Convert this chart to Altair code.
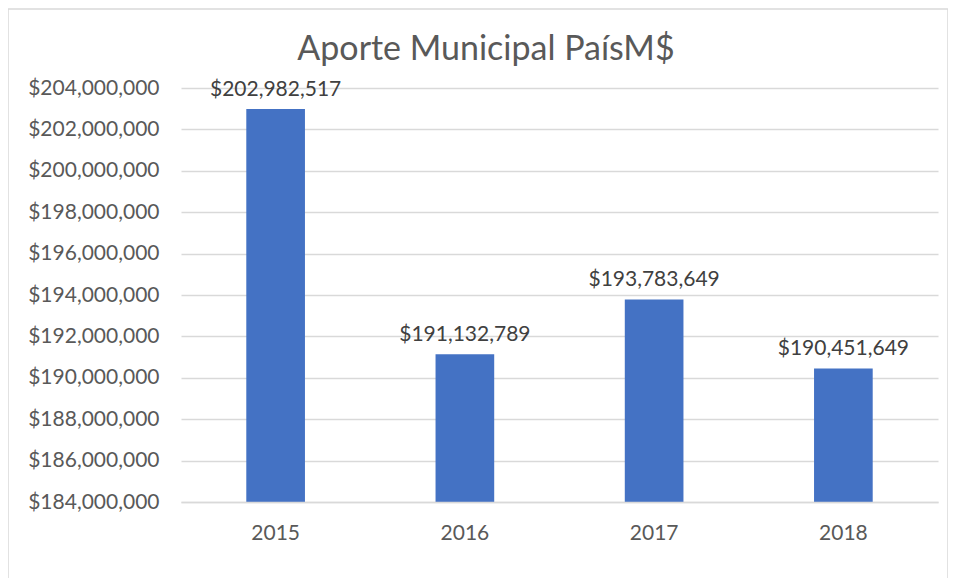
import altair as alt
import pandas as pd

years = ["2015", "2016", "2017", "2018"]
values = [202982517, 191132789, 193783649, 190451649]
title_text = "Aporte Municipal PaísM$"

df = pd.DataFrame({"year": years, "value": values})
df["label"] = df["value"].map(lambda v: "${:,}".format(v))

FONT = "Lato"
W, H = 757, 414
YMIN, YMAX = 184000000, 204000000

base = alt.Chart(df)

bars = base.mark_bar(color="#4472C4", clip=True).encode(
    x=alt.X("year:N", sort=years,
            scale=alt.Scale(paddingInner=0.69, paddingOuter=0.345),
            axis=alt.Axis(title=None, labelAngle=0, labelFontSize=21, labelColor="#595959",
                          labelFont=FONT, ticks=False, grid=False, domain=True, domainColor="#D9D9D9",
                          domainWidth=1.3, labelPadding=20, zindex=1)),
    y=alt.Y("value:Q",
            scale=alt.Scale(domain=[YMIN, YMAX], nice=False, zero=False),
            axis=alt.Axis(title=None, values=list(range(YMIN, YMAX + 1, 2000000)),
                          format="$,d", labelFontSize=21, labelColor="#595959", labelFont=FONT,
                          ticks=False, domain=False, gridColor="#D9D9D9", gridWidth=1.3,
                          labelPadding=22)),
)

labels = base.mark_text(font=FONT, fontSize=21, color="#404040", baseline="alphabetic", dy=-13).encode(
    x=alt.X("year:N", sort=years),
    y=alt.Y("value:Q"),
    text="label:N",
)

frame = alt.Chart(pd.DataFrame({"a": [0]})).mark_rect(
    fill=None, stroke="#D9D9D9", strokeWidth=1.5
).encode(
    x=alt.value(-173), x2=alt.value(767), y=alt.value(-79), y2=alt.value(520)
)

title = alt.Chart(pd.DataFrame({"t": [title_text]})).mark_text(
    font=FONT, fontSize=34, color="#595959", baseline="alphabetic", align="center"
).encode(
    x=alt.value(305), y=alt.value(-28), text="t:N"
)

chart = alt.layer(frame, bars, labels, title).properties(
    width=W, height=H,
    background="white",
    autosize=alt.AutoSizeParams(type="none"),
    padding={"left": 173, "top": 80, "right": 10, "bottom": 76},
).configure_view(strokeWidth=0)

chart.save("out.html", embed_options={"renderer": "svg", "actions": False})
